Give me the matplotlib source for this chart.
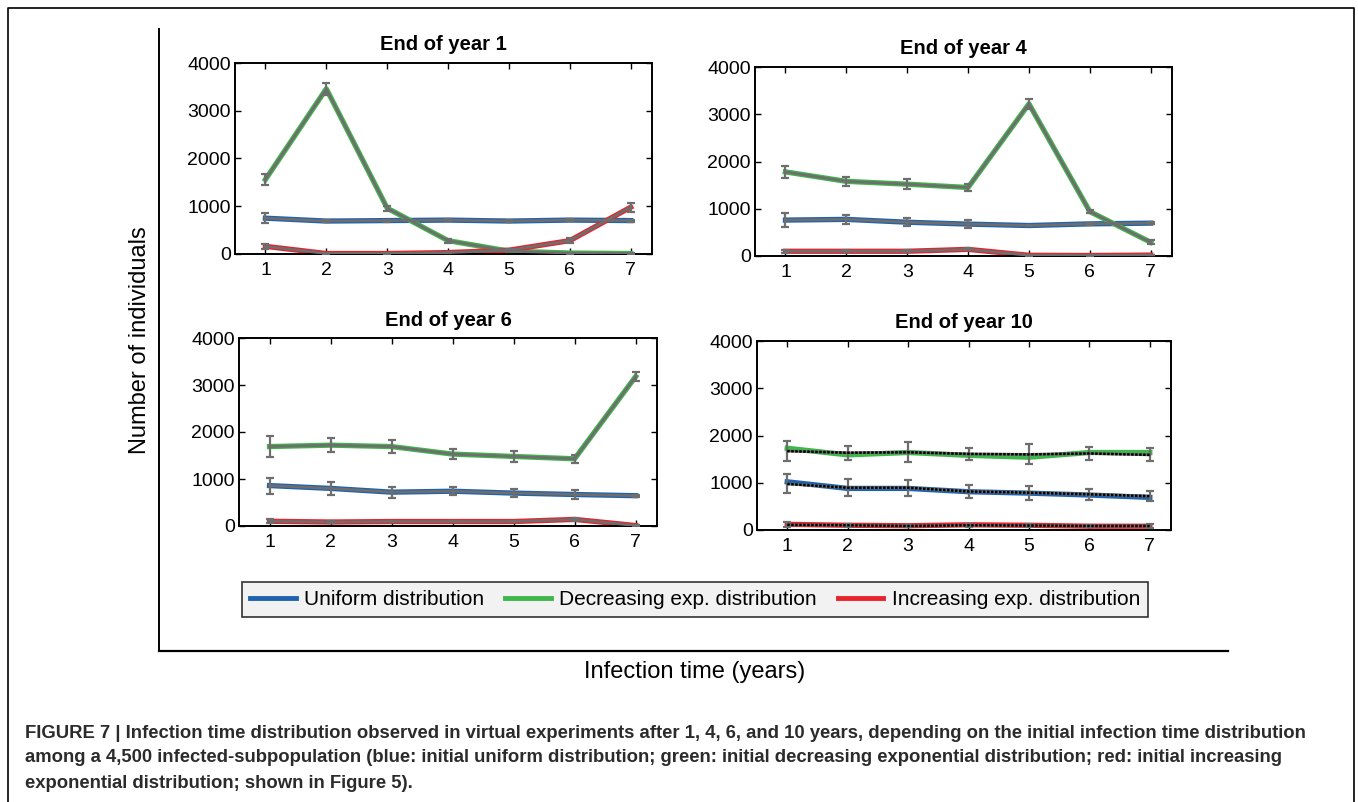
import matplotlib
matplotlib.use("Agg")
import matplotlib.pyplot as plt
from matplotlib.lines import Line2D

plt.rcParams["font.family"] = ["Liberation Sans", "DejaVu Sans"]

W, H = 1358, 802

infection_years = [1, 2, 3, 4, 5, 6, 7]
panel_titles = ["End of year 1", "End of year 4", "End of year 6", "End of year 10"]
series_names = ["Uniform distribution", "Decreasing exp. distribution", "Increasing exp. distribution"]

# End of year 1
y1_uniform = [750, 690, 700, 710, 690, 710, 700]
y1_uniform_err = [110, 20, 20, 20, 20, 20, 20]
y1_decr = [1560, 3460, 960, 280, 60, 20, 10]
y1_decr_err = [120, 130, 50, 40, 20, 10, 10]
y1_incr = [160, 10, 10, 30, 80, 280, 980]
y1_incr_err = [50, 5, 5, 10, 20, 50, 90]

# End of year 4
y4_uniform = [760, 775, 715, 675, 645, 680, 695]
y4_uniform_err = [140, 90, 90, 90, 20, 20, 20]
y4_decr = [1780, 1580, 1520, 1450, 3220, 940, 290]
y4_decr_err = [130, 100, 100, 80, 110, 40, 40]
y4_incr = [100, 100, 100, 140, 15, 10, 20]
y4_incr_err = [30, 20, 20, 20, 5, 5, 5]

# End of year 6
y6_uniform = [860, 800, 720, 740, 700, 670, 645]
y6_uniform_err = [170, 130, 120, 90, 90, 100, 20]
y6_decr = [1690, 1720, 1690, 1530, 1480, 1430, 3180]
y6_decr_err = [230, 150, 130, 100, 110, 90, 100]
y6_incr = [100, 85, 95, 95, 95, 140, 10]
y6_incr_err = [40, 20, 20, 20, 20, 30, 5]

# End of year 10 (coloured curves + black dotted mean with error bars)
y10_uniform = [1020, 880, 880, 810, 780, 740, 690]
y10_decr = [1730, 1590, 1640, 1580, 1540, 1640, 1640]
y10_incr = [120, 100, 90, 110, 100, 80, 80]
y10_uniform_mean = [975, 895, 895, 815, 790, 755, 715]
y10_uniform_err = [200, 180, 170, 130, 150, 110, 110]
y10_decr_mean = [1670, 1635, 1645, 1610, 1600, 1620, 1590]
y10_decr_err = [220, 150, 210, 130, 210, 130, 140]
y10_incr_mean = [110, 100, 85, 100, 95, 85, 85]
y10_incr_err = [50, 30, 20, 30, 30, 30, 40]

colors = ["#1f63b0", "#3fb64a", "#e8232b"]
gray = "#6e6e6e"

caption_lines = [
    "FIGURE 7 | Infection time distribution observed in virtual experiments after 1, 4, 6, and 10 years, depending on the initial infection time distribution",
    "among a 4,500 infected-subpopulation (blue: initial uniform distribution; green: initial decreasing exponential distribution; red: initial increasing",
    "exponential distribution; shown in Figure 5).",
]

fig = plt.figure(figsize=(W / 100, H / 100), dpi=100)

def px_axes(left, top, right, bottom):
    return fig.add_axes([left / W, 1 - bottom / H, (right - left) / W, (bottom - top) / H])

axes = [
    px_axes(235, 63, 652, 254),
    px_axes(755, 67, 1172, 256),
    px_axes(239, 338, 657, 526),
    px_axes(757, 341, 1171, 530),
]

panels = [
    [(y1_uniform, y1_uniform_err), (y1_decr, y1_decr_err), (y1_incr, y1_incr_err)],
    [(y4_uniform, y4_uniform_err), (y4_decr, y4_decr_err), (y4_incr, y4_incr_err)],
    [(y6_uniform, y6_uniform_err), (y6_decr, y6_decr_err), (y6_incr, y6_incr_err)],
]

handles = []
for i, ax in enumerate(axes):
    if i < 3:
        for j, (vals, errs) in enumerate(panels[i]):
            h, = ax.plot(infection_years, vals, color=colors[j], lw=3.8, zorder=2)
            if i == 0:
                handles.append(h)
            ax.errorbar(infection_years, vals, yerr=errs, color=gray, lw=2.0, elinewidth=1.6,
                        capsize=3, capthick=1.6, zorder=3)
    else:
        colored = [y10_uniform, y10_decr, y10_incr]
        means = [(y10_uniform_mean, y10_uniform_err), (y10_decr_mean, y10_decr_err), (y10_incr_mean, y10_incr_err)]
        for j in range(3):
            ax.plot(infection_years, colored[j], color=colors[j], lw=3.8, zorder=2)
            m, e = means[j]
            ax.errorbar(infection_years, m, yerr=e, color=gray, lw=2.0, elinewidth=1.6,
                        capsize=3, capthick=1.6, zorder=3)
            ax.plot(infection_years, m, color="black", lw=1.8, ls=(0, (1, 0.6)), zorder=4)

    ax.set_xlim(0.5, 7.35)
    ax.set_ylim(0, 4000)
    ax.set_xticks(infection_years)
    ax.set_yticks([0, 1000, 2000, 3000, 4000])
    ax.tick_params(direction="in", top=True, right=True, length=4, width=1.0,
                   labelsize=14, colors="black")
    ax.tick_params(axis="x", pad=6)
    ax.tick_params(axis="y", pad=3)
    for sp in ax.spines.values():
        sp.set_linewidth(1.4)
    ax.set_title(panel_titles[i], fontsize=14.5, fontweight="bold", pad=9)

# legend
leg = fig.legend(handles, series_names, loc="center", bbox_to_anchor=(695 / W, 1 - 599.5 / H),
                 ncol=3, fontsize=15, frameon=True, fancybox=False, handlelength=2.2,
                 handletextpad=0.4, columnspacing=1.0, borderpad=0.4)
leg.get_frame().set_facecolor("#efefef")
leg.get_frame().set_edgecolor("black")
leg.get_frame().set_linewidth(1.2)
for lh in leg.get_lines():
    lh.set_linewidth(3.5)

# common frame lines
fig.add_artist(Line2D([159 / W, 159 / W], [1 - 29 / H, 1 - 651 / H], color="black", lw=1.4))
fig.add_artist(Line2D([159 / W, 1228 / W], [1 - 651 / H, 1 - 651 / H], color="black", lw=1.6))

fig.text(140 / W, 1 - 340 / H, "Number of individuals", rotation=90, ha="center", va="center", fontsize=17)
fig.text(695 / W, 1 - 672 / H, "Infection time (years)", ha="center", va="center", fontsize=17)

# outer border (left, top, right edges; bottom lies outside the image)
fig.add_artist(Line2D([8 / W, 8 / W, 1354 / W, 1354 / W], [-0.01, 1 - 8 / H, 1 - 8 / H, -0.01],
                      color="black", lw=1.2))

for k, line in enumerate(caption_lines):
    fig.text(25 / W, 1 - (733 + 25 * k) / H, line, ha="left", va="center", fontsize=13.35,
             fontweight="bold", color="#2b2b2b")

fig.savefig("out.png", dpi=100)
